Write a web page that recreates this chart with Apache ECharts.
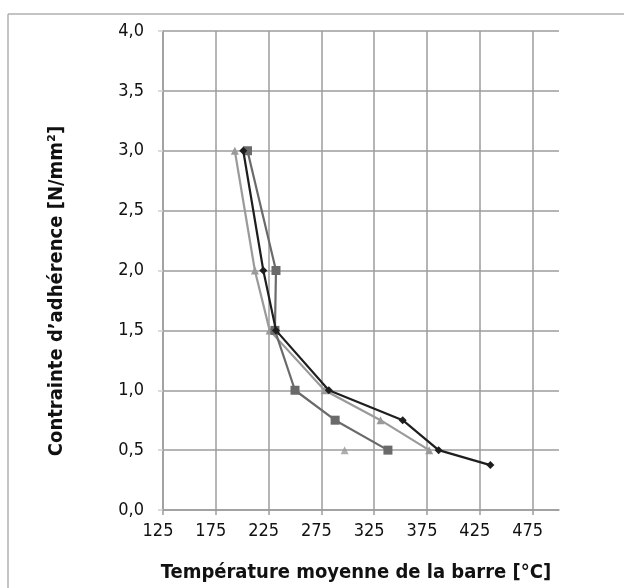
<!DOCTYPE html>
<html>
<head>
<meta charset="utf-8">
<script src="https://cdn.jsdelivr.net/npm/echarts@6/dist/echarts.min.js"></script>
<style>
html,body{margin:0;padding:0;background:#fff;}
#c{width:624px;height:588px;}
</style>
</head>
<body>
<div id="c"></div>
<script>
// Data: [temperature °C, stress N/mm²]
var seriesBlack = [[201, 3.0], [220, 2.0], [232, 1.5], [282, 1.0], [352, 0.75], [386, 0.5], [435, 0.375]];
var seriesSquare = [[205, 3.0], [232, 2.0], [231, 1.5], [250, 1.0], [288, 0.75], [338, 0.5]];
var seriesTriangle = [[193, 3.0], [212, 2.0], [226, 1.5], [278, 1.0], [331, 0.75], [377, 0.5]];
var triangleExtra = [[297, 0.5]];
var xTicks = [125, 175, 225, 275, 325, 375, 425, 475];
var yTicks = [0, 0.5, 1, 1.5, 2, 2.5, 3, 3.5, 4];
var xName = 'Température moyenne de la barre [°C]';
var yName = 'Contrainte d\u2019adhérence [N/mm²]';

var FONT = '"DejaVu Sans Condensed","Liberation Sans Narrow",sans-serif';
var grid = '#9c9c9c';

var chart = echarts.init(document.getElementById('c'), null, {renderer: 'canvas'});
chart.setOption({
  backgroundColor: '#fff',
  animation: false,
  grid: {left: 163, right: 65, top: 31, bottom: 68, containLabel: false},
  graphic: [
    {type: 'line', shape: {x1: 8, y1: 14, x2: 624, y2: 14}, style: {stroke: '#b0b0b0', lineWidth: 1.5}},
    {type: 'line', shape: {x1: 8, y1: 14, x2: 8, y2: 588}, style: {stroke: '#b0b0b0', lineWidth: 1.5}},
    {type: 'text', x: 57, y: 291, rotation: Math.PI / 2,
     style: {text: yName, font: 'bold 20px ' + FONT, fill: '#111', align: 'center', verticalAlign: 'middle'}}
  ],
  xAxis: {
    type: 'value', min: 125, max: 500, interval: 50,
    name: xName, nameLocation: 'middle', nameGap: 53,
    nameTextStyle: {fontFamily: FONT, fontWeight: 'bold', fontSize: 20, color: '#111', padding: [0, 10, 0, 0]},
    axisLine: {show: true, lineStyle: {color: grid, width: 1.5}},
    axisTick: {show: true, length: 5, lineStyle: {color: grid, width: 1.5}},
    splitLine: {show: true, showMaxLine: false, lineStyle: {color: grid, width: 1.5}},
    axisLabel: {
      fontFamily: FONT, fontSize: 18, color: '#111', margin: 12, padding: [0, 10, 0, 0],
      showMaxLabel: false,
      formatter: function (v) { return xTicks.indexOf(v) >= 0 ? String(v) : ''; }
    }
  },
  yAxis: {
    type: 'value', min: 0, max: 4, interval: 0.5,
    axisLine: {show: true, lineStyle: {color: grid, width: 1.5}},
    axisTick: {show: true, length: 5, lineStyle: {color: '#d0d0d0', width: 1.5}},
    splitLine: {show: true, lineStyle: {color: grid, width: 1.5}},
    axisLabel: {
      fontFamily: FONT, fontSize: 18, color: '#111', margin: 19,
      formatter: function (v) { return yTicks.indexOf(v) >= 0 ? v.toFixed(1).replace('.', ',') : ''; }
    }
  },
  series: [
    {type: 'line', data: seriesTriangle, symbol: 'triangle', symbolSize: 8,
     lineStyle: {color: '#9a9a9a', width: 2.2}, itemStyle: {color: '#9a9a9a'}, z: 2},
    {type: 'scatter', data: triangleExtra, symbol: 'triangle', symbolSize: 8,
     itemStyle: {color: '#9a9a9a'}, z: 2},
    {type: 'line', data: seriesSquare, symbol: 'rect', symbolSize: 9,
     lineStyle: {color: '#6a6a6a', width: 2.2}, itemStyle: {color: '#6a6a6a'}, z: 3},
    {type: 'line', data: seriesBlack, symbol: 'diamond', symbolSize: 8,
     lineStyle: {color: '#1e1e1e', width: 2.2}, itemStyle: {color: '#1e1e1e'}, z: 4}
  ]
});
</script>
</body>
</html>
